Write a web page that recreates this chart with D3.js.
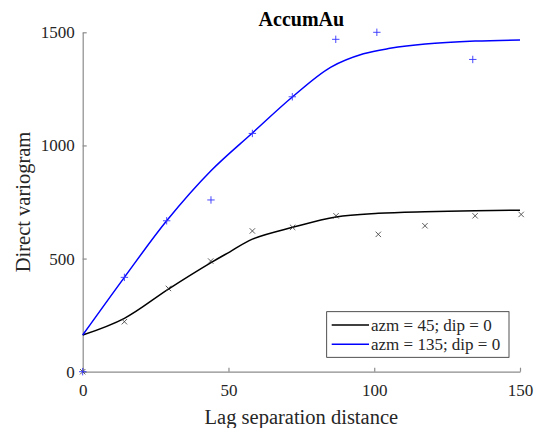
<!DOCTYPE html>
<html>
<head>
<meta charset="utf-8">
<script src="https://cdn.jsdelivr.net/npm/d3@7"></script>
<style>
  body { margin: 0; background: #fff; }
  text { font-family: "Liberation Serif", "Times New Roman", serif; fill: #262626; }
</style>
</head>
<body>
<div id="chart"></div>
<script>
// experimental points
const lags45 = [0, 14.3, 29.4, 43.9, 58.2, 72.0, 86.9, 101.4, 117.4, 134.6, 150.4];
const gamma45 = [0, 221, 368, 489, 622, 638, 689, 607, 645, 689, 695];
const lags135 = [0, 14.3, 28.8, 44.0, 58.2, 71.9, 86.8, 100.9, 133.8];
const gamma135 = [0, 417, 667, 759, 1053, 1215, 1469, 1500, 1380];

// fitted model
const modelLags45 = [0, 14.3, 29.4, 44, 50.5, 58.2, 72, 86.9, 101.4, 117.4, 134.6, 150];
const model45 = [162, 236, 365, 482, 530, 586, 638, 684, 700, 707, 711, 714];
const modelLags135 = [0, 14.3, 28.8, 44, 58.2, 72, 85, 96.3, 105.4, 117.5, 134.6, 150];
const model135 = [162, 417, 667, 888, 1055, 1215, 1345, 1405, 1429, 1448, 1461, 1466];

const xTicks = [0, 50, 100, 150];
const yTicks = [0, 500, 1000, 1500];
const legendLabels = ["azm = 45; dip = 0", "azm = 135; dip = 0"];
const colors = ["#000000", "#0000ff"];

const serif = "'Liberation Serif', 'Times New Roman', serif";
const W = 537, H = 428;
const svg = d3.select("#chart").append("svg")
  .attr("width", W).attr("height", H);

const x = d3.scaleLinear().domain([0, 150]).range([82.7, 520]);
const y = d3.scaleLinear().domain([0, 1500]).range([371.7, 32.3]);

// axes
const xAxis = svg.append("g")
  .attr("transform", "translate(0," + y(0) + ")")
  .call(d3.axisBottom(x).tickValues(xTicks).tickFormat(d3.format("d"))
    .tickSizeInner(-4).tickSizeOuter(0).tickPadding(12));
const yAxis = svg.append("g")
  .attr("transform", "translate(" + x(0) + ",0)")
  .call(d3.axisLeft(y).tickValues(yTicks).tickFormat(d3.format("d"))
    .tickSizeInner(-4).tickSizeOuter(0).tickPadding(8));
[xAxis, yAxis].forEach(g => {
  g.attr("font-family", serif).attr("font-size", 17);
  g.selectAll("path, line").attr("stroke", "#8c8c8c").attr("stroke-width", 1.2);
  g.selectAll("text").attr("fill", "#262626");
});

// model lines
const line = d3.line()
  .x(d => x(d[0])).y(d => y(d[1]))
  .curve(d3.curveCatmullRom.alpha(0.5));
svg.append("path")
  .datum(modelLags45.map((l, i) => [l, model45[i]]))
  .attr("d", line).attr("fill", "none")
  .attr("stroke", colors[0]).attr("stroke-width", 1.5);
svg.append("path")
  .datum(modelLags135.map((l, i) => [l, model135[i]]))
  .attr("d", line).attr("fill", "none")
  .attr("stroke", colors[1]).attr("stroke-width", 1.5);

// markers: x for azm 45, + for azm 135
const s = 2.7;
svg.selectAll(".mx")
  .data(lags45.map((l, i) => [l, gamma45[i]]))
  .enter().append("path")
  .attr("class", "mx")
  .attr("d", d => {
    const cx = x(d[0]), cy = y(d[1]);
    return `M${cx - s},${cy - s}L${cx + s},${cy + s}M${cx - s},${cy + s}L${cx + s},${cy - s}`;
  })
  .attr("stroke", "#333").attr("stroke-width", 0.8).attr("fill", "none");

const p = 3.7;
svg.selectAll(".mp")
  .data(lags135.map((l, i) => [l, gamma135[i]]))
  .enter().append("path")
  .attr("class", "mp")
  .attr("d", d => {
    const cx = x(d[0]), cy = y(d[1]);
    return `M${cx - p},${cy}L${cx + p},${cy}M${cx},${cy - p}L${cx},${cy + p}`;
  })
  .attr("stroke", "#3333ff").attr("stroke-width", 0.9).attr("fill", "none");

// title and labels
svg.append("text")
  .attr("x", (x(0) + x(150)) / 2).attr("y", 26)
  .attr("text-anchor", "middle")
  .attr("font-family", serif)
  .style("font-size", "20px").style("font-weight", "bold")
  .style("fill", "#000")
  .text("AccumAu");

svg.append("text")
  .attr("x", (x(0) + x(150)) / 2).attr("y", 424)
  .attr("text-anchor", "middle")
  .attr("font-family", serif)
  .style("font-size", "20.5px")
  .text("Lag separation distance");

svg.append("text")
  .attr("transform", "translate(30," + (y(0) + y(1500)) / 2 + ") rotate(-90)")
  .attr("text-anchor", "middle")
  .attr("font-family", serif)
  .style("font-size", "20.5px")
  .text("Direct variogram");

// legend
const lg = svg.append("g").attr("font-family", serif);
lg.append("rect")
  .attr("x", 326.7).attr("y", 311.7).attr("width", 182.3).attr("height", 45.6)
  .attr("fill", "#fff").attr("stroke", "#262626").attr("stroke-width", 0.8);
legendLabels.forEach((t, i) => {
  const ly = 325 + i * 19.3;
  lg.append("line")
    .attr("x1", 331.7).attr("x2", 369).attr("y1", ly).attr("y2", ly)
    .attr("stroke", colors[i]).attr("stroke-width", 1.5);
  lg.append("text")
    .attr("x", 371).attr("y", ly + 6)
    .style("font-size", "17px")
    .text(t);
});
</script>
</body>
</html>
